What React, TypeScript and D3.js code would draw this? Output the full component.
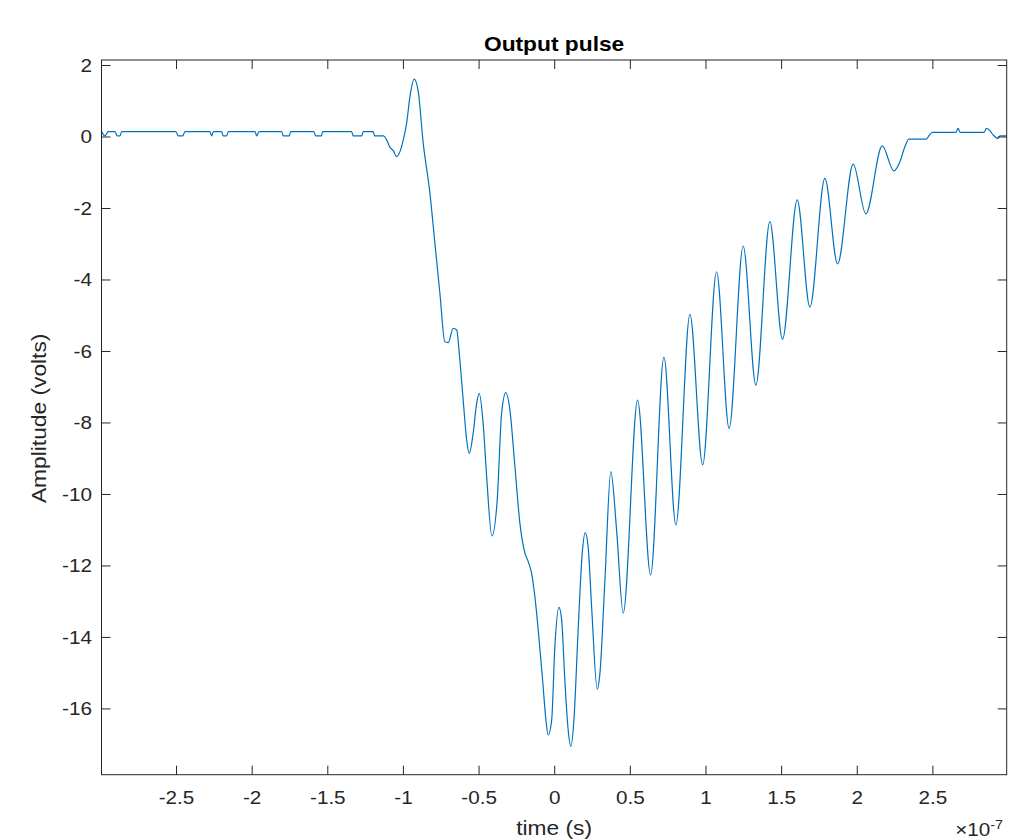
import React from 'react';
import * as d3 from 'd3';

const W = 1009;
const H = 839;
const margin = { top: 60, right: 2.3, bottom: 64.3, left: 101.5 };

const title = 'Output pulse';
const xLabel = 'time (s)';
const yLabel = 'Amplitude (volts)';

const xTicks = [-2.5, -2, -1.5, -1, -0.5, 0, 0.5, 1, 1.5, 2, 2.5];
const xTickLabels = ['-2.5', '-2', '-1.5', '-1', '-0.5', '0', '0.5', '1', '1.5', '2', '2.5'];
const yTicks = [-16, -14, -12, -10, -8, -6, -4, -2, 0, 2];
const yTickLabels = ['-16', '-14', '-12', '-10', '-8', '-6', '-4', '-2', '0', '2'];

// time in units of 1e-7 s
const timeE7 = [
  -2.995, -2.973, -2.951, -2.907, -2.892, -2.874, -2.863, -2.504, -2.488, -2.459,
  -2.444, -2.279, -2.268, -2.257, -2.202, -2.191, -2.169, -2.158, -1.981, -1.970,
  -1.955, -1.805, -1.794, -1.755, -1.746, -1.592, -1.580, -1.543, -1.534, -1.342,
  -1.332, -1.276, -1.266, -1.200, -1.190, -1.133, -1.111, -1.089, -1.067, -1.045,
  -1.023, -1.001, -0.979, -0.957, -0.929, -0.902, -0.869, -0.825, -0.792, -0.759,
  -0.726, -0.704, -0.671, -0.648, -0.627, -0.605, -0.582, -0.565, -0.539, -0.516,
  -0.499, -0.473, -0.450, -0.415, -0.380, -0.351, -0.323, -0.296, -0.263, -0.230,
  -0.197, -0.175, -0.153, -0.131, -0.109, -0.080, -0.058, -0.043, -0.020, 0.001,
  0.028, 0.046, 0.067, 0.089, 0.107, 0.127, 0.155, 0.182, 0.202, 0.221,
  0.244, 0.281, 0.299, 0.332, 0.371, 0.409, 0.453, 0.548, 0.634, 0.722,
  0.801, 0.894, 0.978, 1.070, 1.153, 1.246, 1.330, 1.422, 1.506, 1.603,
  1.687, 1.786, 1.870, 1.973, 2.057, 2.165, 2.242, 2.282, 2.315, 2.341,
  2.458, 2.473, 2.498, 2.652, 2.667, 2.680, 2.837, 2.855, 2.872, 2.898,
  2.931, 2.943, 2.989,
];

const amplitude = [
  0.15, 0.03, 0.15, 0.15, 0.03, 0.03, 0.15, 0.15, 0.03, 0.03,
  0.15, 0.15, 0.03, 0.15, 0.15, 0.03, 0.03, 0.15, 0.15, 0.03,
  0.15, 0.15, 0.03, 0.03, 0.15, 0.15, 0.03, 0.03, 0.15, 0.15,
  0.03, 0.03, 0.15, 0.15, 0.03, 0.03, -0.08, -0.29, -0.38, -0.55,
  -0.41, -0.08, 0.38, 1.13, 1.62, 1.27, -0.18, -1.57, -2.97, -4.37,
  -5.73, -5.75, -5.35, -5.40, -6.24, -7.36, -8.48, -8.85, -8.29, -7.45,
  -7.17, -8.01, -9.50, -11.16, -10.15, -7.73, -7.15, -7.64, -9.22, -10.81,
  -11.64, -11.88, -12.20, -12.86, -13.79, -15.19, -16.31, -16.73, -16.31, -14.26,
  -13.16, -13.51, -15.19, -16.59, -17.05, -16.31, -13.79, -11.64, -11.07, -11.46,
  -13.14, -15.45, -15.00, -12.39, -9.36, -10.99, -13.32, -7.36, -12.25, -6.16,
  -10.85, -4.96, -9.17, -3.77, -8.15, -3.05, -6.94, -2.37, -5.66, -1.76,
  -4.76, -1.16, -3.55, -0.76, -2.15, -0.25, -0.95, -0.69, -0.27, -0.06,
  -0.06, 0.03, 0.13, 0.13, 0.24, 0.13, 0.13, 0.24, 0.20, 0.06,
  -0.04, 0.03, 0.03,
];

const FONT = '"Liberation Sans", Arial, Helvetica, sans-serif';
const AXIS = '#262626';
const LINE = '#0072BD';
const STRETCH = 1.15; // the reference text runs a bit wide

type LabelProps = {
  x: number;
  y: number;
  size: number;
  anchor?: 'start' | 'middle' | 'end';
  rotate?: number;
  bold?: boolean;
  fill?: string;
  dy?: string;
  children: React.ReactNode;
};

function Label({ x, y, size, anchor = 'middle', rotate = 0, bold, fill = AXIS, dy, children }: LabelProps) {
  return (
    <text
      transform={`translate(${x},${y}) rotate(${rotate}) scale(${STRETCH},1)`}
      textAnchor={anchor}
      fontSize={size}
      fontWeight={bold ? 'bold' : 'normal'}
      fill={fill}
      dy={dy}
    >
      {children}
    </text>
  );
}

export default function App() {
  const x = d3.scaleLinear().domain([-2.996, 2.988]).range([margin.left, W - margin.right]);
  const y = d3.scaleLinear().domain([-17.84, 2.154]).range([H - margin.bottom, margin.top]);

  const pts: [number, number][] = timeE7.map((t, i) => [t, amplitude[i]]);
  const line = d3
    .line<[number, number]>()
    .x((d) => x(d[0]))
    .y((d) => y(d[1]))
    .curve(d3.curveMonotoneX);

  const x0 = margin.left;
  const x1 = W - margin.right;
  const y0 = margin.top;
  const y1 = H - margin.bottom;
  const tick = 9;
  const tickSize = 18;
  const labelSize = 19.8;

  return (
    <svg
      width={W}
      height={H}
      style={{ position: 'absolute', left: 0, top: 0, background: '#fff' }}
      fontFamily={FONT}
    >
      <defs>
        <clipPath id="plot-clip">
          <rect x={x0} y={y0} width={x1 - x0} height={y1 - y0} />
        </clipPath>
      </defs>
      <rect x={0} y={0} width={W} height={H} fill="#fff" />

      <path
        d={line(pts) || ''}
        fill="none"
        stroke={LINE}
        strokeWidth={1.2}
        clipPath="url(#plot-clip)"
      />

      {/* box */}
      <rect x={x0} y={y0} width={x1 - x0} height={y1 - y0} fill="none" stroke={AXIS} strokeWidth={1} />

      {/* x ticks */}
      {xTicks.map((v, i) => (
        <g key={'xt' + i}>
          <line x1={x(v)} x2={x(v)} y1={y1} y2={y1 - tick} stroke={AXIS} />
          <line x1={x(v)} x2={x(v)} y1={y0} y2={y0 + tick} stroke={AXIS} />
          <Label x={x(v)} y={804} size={tickSize}>
            {xTickLabels[i]}
          </Label>
        </g>
      ))}

      {/* y ticks */}
      {yTicks.map((v, i) => (
        <g key={'yt' + i}>
          <line x1={x0} x2={x0 + tick} y1={y(v)} y2={y(v)} stroke={AXIS} />
          <line x1={x1} x2={x1 - tick} y1={y(v)} y2={y(v)} stroke={AXIS} />
          <Label x={92} y={y(v)} size={tickSize} anchor="end" dy="0.36em">
            {yTickLabels[i]}
          </Label>
        </g>
      ))}

      <Label x={(x0 + x1) / 2} y={51} size={labelSize} bold fill="#000">
        {title}
      </Label>
      <Label x={(x0 + x1) / 2} y={835} size={labelSize}>
        {xLabel}
      </Label>
      <Label x={46} y={(y0 + y1) / 2 + 1} size={labelSize} rotate={-90}>
        {yLabel}
      </Label>

      {/* exponent */}
      <text
        transform={`translate(1003,836) scale(${STRETCH},1)`}
        textAnchor="end"
        fontSize={tickSize}
        fill={AXIS}
      >
        ×10
        <tspan dy={-7} fontSize={12.5}>
          -7
        </tspan>
      </text>
    </svg>
  );
}
